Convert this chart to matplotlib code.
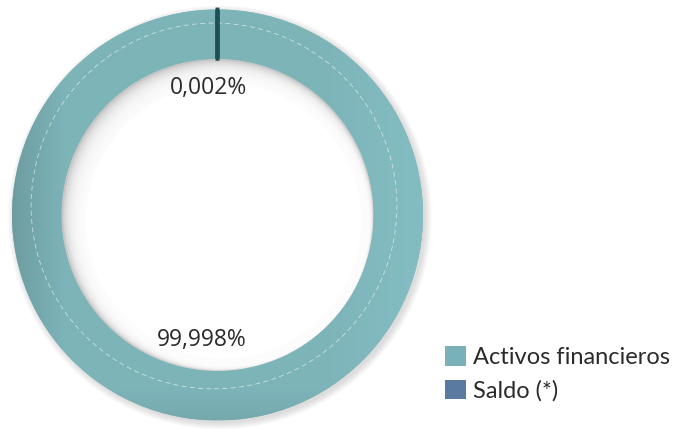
import numpy as np
import matplotlib.pyplot as plt
from matplotlib.patches import Patch, Circle

# Data
labels = ["Activos financieros", "Saldo (*)"]
values = [99.998, 0.002]
value_texts = ["99,998%", "0,002%"]
legend_colors = ["#78b1b7", "#5b7aa1"]

ring_color = "#7db4b9"
slice_color = "#1f4f55"

plt.rcParams["font.family"] = ["Open Sans", "DejaVu Sans"]

fig = plt.figure(figsize=(6.76, 4.29), dpi=100)
# ring centre at (217.5, 215) px, radius 205.5 px, limits +-1.05
side = 2.1 * 205.5
ax = fig.add_axes([(217.5 - side / 2) / 676, (429 - 215 - side / 2) / 429,
                   side / 676, side / 429])
lim = 1.05

inner = 0.76
wedges, _ = ax.pie(
    values,
    colors=[ring_color, slice_color],
    startangle=90,
    counterclock=False,
    radius=1.0,
    wedgeprops=dict(width=1 - inner, linewidth=0),
)
wedges[0].set_zorder(1.5)
# the tiny slice is only visible as a radial line
wedges[1].set_edgecolor(slice_color)
wedges[1].set_linewidth(2.8)
wedges[1].set_zorder(3)

# drop shadow outside the ring (bottom-right)
for i in range(6):
    ax.add_patch(Circle((0.012, -0.012), 1.0 + 0.006 * i, color="#888888",
                        alpha=0.05, linewidth=0, zorder=0.2))

# shading of the ring: a bit darker on the far left and at the bottom
gx, gy = np.meshgrid(np.linspace(-1, 1, 300), np.linspace(-1, 1, 300))
shade = (1 - 0.13 * np.clip((-gx - 0.75) / 0.25, 0, 1)
         - 0.06 * np.clip((-gy - 0.85) / 0.15, 0, 1)
         + 0.05 * np.clip((gx - 0.5) / 0.5, 0, 1))
base = np.array([0.49, 0.706, 0.725])
img = np.clip(shade[..., None] * base, 0, 1)
im = ax.imshow(img, extent=(-1, 1, -1, 1), origin="lower", zorder=1.6,
               interpolation="bilinear")
im.set_clip_path(wedges[0])

# soft shadow inside the hole (top-left side)
ax.add_patch(Circle((0, 0), inner, color="#c4c4c4", linewidth=0, zorder=0))
for i in range(12):
    ax.add_patch(Circle((0.004 * i, -0.004 * i), inner - 0.006 * i,
                        color="white", alpha=0.28, linewidth=0, zorder=0.5))
ax.add_patch(Circle((0.03, -0.03), inner - 0.09, color="white",
                    linewidth=0, zorder=0.6))

# dashed line within the ring (slightly off centre, as in the source)
ax.add_patch(Circle((-0.017, 0.044), 0.89, fill=False, edgecolor="white",
                    linestyle=(0, (6, 4)), linewidth=0.6, alpha=0.6,
                    zorder=2))

ax.text(-0.075, -0.608, value_texts[0], ha="center", va="center",
        fontsize=16.5, color="#2b2b2b", zorder=4)
ax.text(-0.046, 0.618, value_texts[1], ha="center", va="center",
        fontsize=16.5, color="#2b2b2b", zorder=4)

ax.set_xlim(-lim, lim)
ax.set_ylim(-lim, lim)
ax.set_aspect("equal")
ax.axis("off")

handles = [Patch(facecolor=c, edgecolor="none") for c in legend_colors]
fig.legend(
    handles, labels,
    loc="lower left",
    bbox_to_anchor=(424 / 676, 6 / 429),
    frameon=False,
    prop={"family": ["Lato", "DejaVu Sans"], "size": 17},
    handlelength=0.88,
    handleheight=0.88,
    handletextpad=0.3,
    labelspacing=0.5,
    labelcolor="#2b2b2b",
)

fig.savefig("out.png", dpi=100)
plt.close()
